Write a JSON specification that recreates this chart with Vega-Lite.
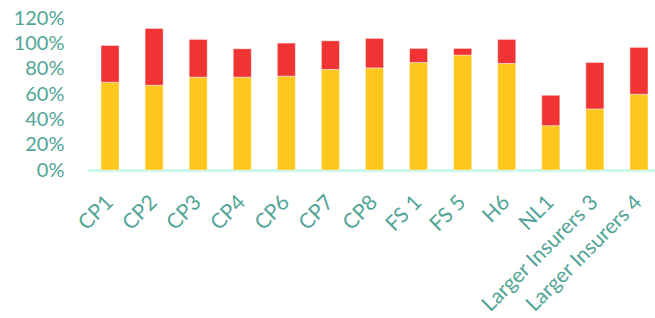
{
  "$schema": "https://vega.github.io/schema/vega-lite/v6.json",
  "width": 567,
  "height": 152,
  "autosize": {"type": "none"},
  "padding": {"left": 88, "top": 18, "right": 0, "bottom": 148},
  "background": "white",
  "config": {
    "view": {"stroke": null},
    "font": "Lato"
  },
  "data": {
    "values": [
      {"name": "CP1", "series": "A", "order": 1, "value": 0.693},
      {"name": "CP1", "series": "B", "order": 2, "value": 0.290},
      {"name": "CP2", "series": "A", "order": 1, "value": 0.669},
      {"name": "CP2", "series": "B", "order": 2, "value": 0.449},
      {"name": "CP3", "series": "A", "order": 1, "value": 0.733},
      {"name": "CP3", "series": "B", "order": 2, "value": 0.298},
      {"name": "CP4", "series": "A", "order": 1, "value": 0.733},
      {"name": "CP4", "series": "B", "order": 2, "value": 0.224},
      {"name": "CP6", "series": "A", "order": 1, "value": 0.741},
      {"name": "CP6", "series": "B", "order": 2, "value": 0.261},
      {"name": "CP7", "series": "A", "order": 1, "value": 0.794},
      {"name": "CP7", "series": "B", "order": 2, "value": 0.226},
      {"name": "CP8", "series": "A", "order": 1, "value": 0.806},
      {"name": "CP8", "series": "B", "order": 2, "value": 0.233},
      {"name": "FS 1", "series": "A", "order": 1, "value": 0.849},
      {"name": "FS 1", "series": "B", "order": 2, "value": 0.111},
      {"name": "FS 5", "series": "A", "order": 1, "value": 0.907},
      {"name": "FS 5", "series": "B", "order": 2, "value": 0.053},
      {"name": "H6", "series": "A", "order": 1, "value": 0.841},
      {"name": "H6", "series": "B", "order": 2, "value": 0.190},
      {"name": "NL1", "series": "A", "order": 1, "value": 0.350},
      {"name": "NL1", "series": "B", "order": 2, "value": 0.240},
      {"name": "Larger Insurers 3", "series": "A", "order": 1, "value": 0.482},
      {"name": "Larger Insurers 3", "series": "B", "order": 2, "value": 0.367},
      {"name": "Larger Insurers 4", "series": "A", "order": 1, "value": 0.598},
      {"name": "Larger Insurers 4", "series": "B", "order": 2, "value": 0.370}
    ]
  },
  "mark": {"type": "bar", "stroke": "#ffffff", "strokeOpacity": 0.45, "strokeWidth": 1},
  "encoding": {
    "x": {
      "field": "name",
      "type": "nominal",
      "sort": null,
      "scale": {"paddingInner": 0.59, "paddingOuter": 0.227, "align": 0.65},
      "axis": {
        "title": null,
        "labelAngle": -45,
        "labelAlign": "right",
        "labelBaseline": "middle",
        "labelPadding": 29,
        "labelFontSize": 21,
        "labelColor": "#52A596",
        "labelFont": "Lato",
        "ticks": false,
        "domainColor": "#C8F7EC",
        "domainWidth": 3
      }
    },
    "y": {
      "field": "value",
      "type": "quantitative",
      "stack": "zero",
      "scale": {"domain": [0, 1.2], "nice": false},
      "axis": {
        "title": null,
        "values": [0, 0.2, 0.4, 0.6, 0.8, 1.0, 1.2],
        "format": ".0%",
        "grid": false,
        "domain": false,
        "ticks": false,
        "labelPadding": 24,
        "labelFontSize": 20,
        "labelColor": "#52A596",
        "labelFont": "Lato"
      }
    },
    "color": {
      "field": "series",
      "type": "nominal",
      "scale": {"domain": ["A", "B"], "range": ["#FDC71C", "#F03434"]},
      "legend": null
    },
    "order": {"field": "order", "type": "quantitative"}
  }
}
